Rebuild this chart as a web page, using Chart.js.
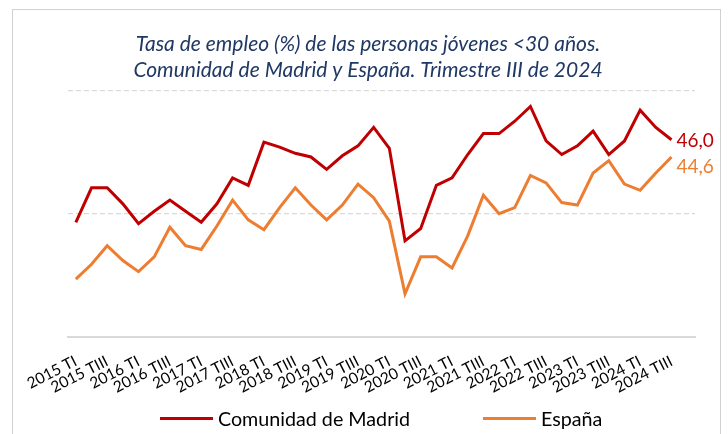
<!DOCTYPE html>
<html>
<head>
<meta charset="utf-8">
<script src="https://cdn.jsdelivr.net/npm/chart.js@4.4.1/dist/chart.umd.min.js"></script>
<style>
  html, body { margin: 0; padding: 0; background: #ffffff; }
  #wrap { position: relative; width: 728px; height: 434px; overflow: hidden; }
  #frame { position: absolute; left: 12px; top: 9px; width: 709px; height: 440px;
           border: 1.5px solid #d0d0d0; box-sizing: border-box; pointer-events: none; }
  canvas { position: absolute; left: 0; top: 0; }
  #legend { position: absolute; left: 160px; top: 407px; display: flex; gap: 73px;
            font-family: Lato, "Open Sans", sans-serif; font-size: 19.7px; color: #000; }
  .item { display: flex; align-items: center; }
  .swatch { width: 53px; height: 3px; margin-right: 5px; }
</style>
</head>
<body>
<div id="wrap">
  <div id="frame"></div>
  <canvas id="c" width="728" height="434"></canvas>
  <div id="legend"></div>
</div>
<script>
const categories = [
  '2015 TI','2015 TII','2015 TIII','2015 TIV',
  '2016 TI','2016 TII','2016 TIII','2016 TIV',
  '2017 TI','2017 TII','2017 TIII','2017 TIV',
  '2018 TI','2018 TII','2018 TIII','2018 TIV',
  '2019 TI','2019 TII','2019 TIII','2019 TIV',
  '2020 TI','2020 TII','2020 TIII','2020 TIV',
  '2021 TI','2021 TII','2021 TIII','2021 TIV',
  '2022 TI','2022 TII','2022 TIII','2022 TIV',
  '2023 TI','2023 TII','2023 TIII','2023 TIV',
  '2024 TI','2024 TII','2024 TIII','2024 TIV'
];
const madrid = [
  39.3, 42.1, 42.1, 40.8, 39.2, 40.2, 41.1, 40.2,
  39.3, 40.8, 42.9, 42.3, 45.8, 45.4, 44.9, 44.6,
  43.6, 44.7, 45.5, 47.0, 45.3, 37.8, 38.8, 42.3,
  42.9, 44.8, 46.5, 46.5, 47.5, 48.7, 45.9, 44.8,
  45.5, 46.7, 44.8, 45.9, 48.4, 47.0, 46.0, null
];
const espana = [
  34.7, 35.9, 37.4, 36.2, 35.3, 36.5, 38.9, 37.4,
  37.1, 39.0, 41.1, 39.5, 38.7, 40.5, 42.1, 40.7,
  39.5, 40.7, 42.4, 41.3, 39.4, 33.5, 36.5, 36.5,
  35.6, 38.2, 41.5, 40.0, 40.5, 43.1, 42.5, 40.9,
  40.7, 43.3, 44.3, 42.4, 41.9, 43.3, 44.6, null
];
const seriesNames = ['Comunidad de Madrid', 'España'];
const seriesColors = ['#C00000', '#ED7D31'];
const yTicks = [30, 40, 50];
const titleLines = ['Tasa de empleo (%) de las personas jóvenes <30 años.',
                    'Comunidad de Madrid y España. Trimestre III de 2024'];

const FONT = 'Lato, "Open Sans", sans-serif';

const lastLabels = {
  id: 'lastLabels',
  afterDatasetsDraw(chart) {
    const ctx = chart.ctx;
    const dy = [1, 10];
    chart.data.datasets.forEach((ds, i) => {
      const meta = chart.getDatasetMeta(i);
      let idx = ds.data.length - 1;
      while (idx >= 0 && ds.data[idx] == null) idx--;
      const pt = meta.data[idx];
      ctx.save();
      ctx.font = '19px ' + FONT;
      ctx.fillStyle = ds.borderColor;
      ctx.textAlign = 'left';
      ctx.textBaseline = 'middle';
      ctx.fillText(ds.data[idx].toFixed(1).replace('.', ','), pt.x + 5, pt.y + dy[i]);
      ctx.restore();
    });
  }
};

new Chart(document.getElementById('c'), {
  type: 'line',
  data: {
    labels: categories,
    datasets: [
      { label: seriesNames[0], data: madrid, borderColor: seriesColors[0], backgroundColor: seriesColors[0],
        borderWidth: 3, pointRadius: 0, tension: 0, spanGaps: false },
      { label: seriesNames[1], data: espana, borderColor: seriesColors[1], backgroundColor: seriesColors[1],
        borderWidth: 3, pointRadius: 0, tension: 0, spanGaps: false }
    ]
  },
  options: {
    responsive: false,
    animation: false,
    layout: { padding: { left: 41, right: 33, top: 0, bottom: 0 } },
    plugins: {
      legend: { display: false },
      tooltip: { enabled: false },
      title: {
        display: true,
        text: titleLines,
        color: '#1F3864',
        font: { family: FONT, size: 21, style: 'italic', weight: 'normal', lineHeight: 1.2 },
        padding: { top: 32, bottom: 8 }
      }
    },
    scales: {
      x: {
        offset: true,
        grid: { display: false },
        border: { display: true, color: '#d9d9d9', width: 2 },
        ticks: {
          autoSkip: false,
          minRotation: 27, maxRotation: 27,
          color: '#000',
          padding: 7,
          font: { family: FONT, size: 15.5 },
          callback: function(v, i) { return i % 2 === 0 ? this.getLabelForValue(v) : ''; }
        },
        afterFit(scale) { scale.height = 97; }
      },
      y: {
        min: yTicks[0], max: yTicks[yTicks.length - 1],
        afterBuildTicks(scale) { scale.ticks = yTicks.map(v => ({ value: v })); },
        ticks: { display: false },
        border: { display: false, dash: [5, 3] },
        grid: {
          drawTicks: false,
          color: ctx => ctx.tick && ctx.tick.value === yTicks[0] ? 'rgba(0,0,0,0)' : '#d9d9d9',
          lineWidth: 1.3
        },
        afterFit(scale) { scale.width = 27; }
      }
    }
  },
  plugins: [lastLabels]
});

const legend = document.getElementById('legend');
seriesNames.forEach((n, i) => {
  const it = document.createElement('div');
  it.className = 'item';
  const sw = document.createElement('span');
  sw.className = 'swatch';
  sw.style.background = seriesColors[i];
  const tx = document.createElement('span');
  tx.textContent = n;
  it.appendChild(sw); it.appendChild(tx);
  legend.appendChild(it);
});
</script>
</body>
</html>
